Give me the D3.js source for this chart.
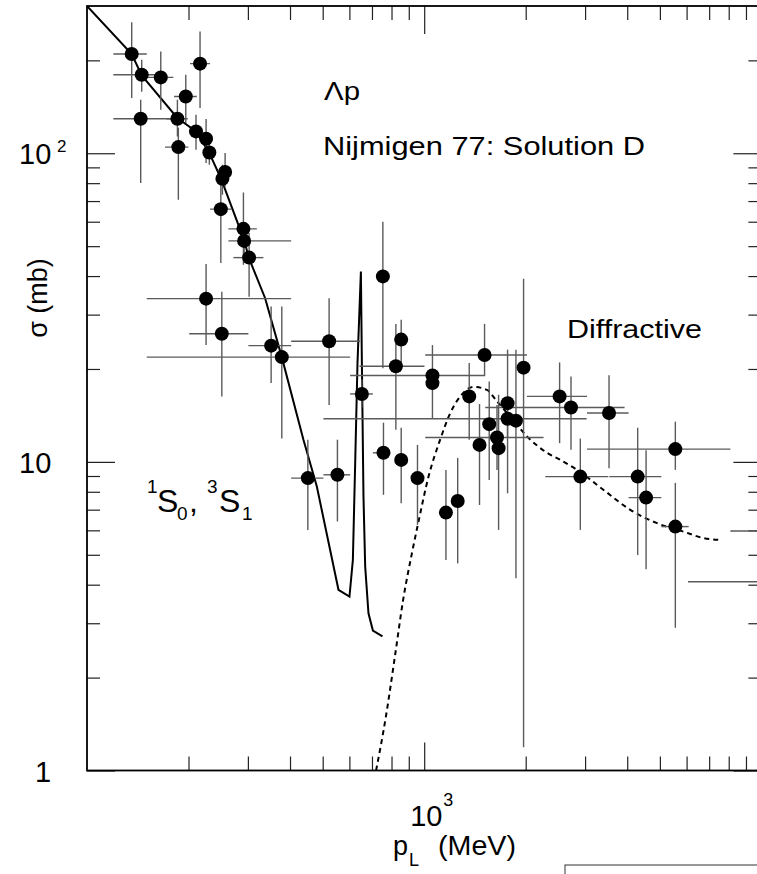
<!DOCTYPE html>
<html>
<head>
<meta charset="utf-8">
<script src="https://cdnjs.cloudflare.com/ajax/libs/d3/7.8.5/d3.min.js"></script>
<style>
    body { margin: 0; background: #fff; }
    svg { display: block; font-family: "Liberation Sans", Arial, Helvetica, sans-serif; }
</style>
</head>
<body>
<svg width="757" height="874"></svg>
<script>
// Lambda-p cross section data (p_L in MeV, sigma in mb)
var pMom   = [135.7, 145.3, 165.5, 216.4, 196.3, 144.3, 185.4, 210.5, 225.5, 186.6, 230.6, 256.8, 252.1, 249.4, 291.0, 292.4, 302.5,
              225.5, 251.1, 351.6, 378.2, 522.4, 653.3, 451.8, 552.9, 754.1, 757.2, 854.6, 824.1, 1058, 1058, 854.6, 955.2,
              1160, 1257, 1360, 1459, 1510, 1559, 1644, 1662, 1767, 1767, 1871, 1971, 2521, 2725, 3533, 2904, 4296, 4550,
              5556, 5556, 11000, 11000];
var pMomLo = [119.7, 119.7, 150.4, 202.1, 181.2, 119.7, 172, 201, 216, 170.4, 222, 248, 244, 231.7, 262.6, 262.6, 271.7,
              150.4, 201, 301, 150.4, 403.1, 603.1, 403.1, 502.5, 754.1, 704.3, 854.6, 642.7, 603.1, 1058, 854.6, 955.2,
              1160, 1257, 1360, 1459, 1007, 1559, 1007, 1662, 1767, 502.5, 1871, 1971, 2017, 1517, 3040, 2286, 3540, 4038,
              3040, 5050, 8091, 6060];
var pMomHi = [150.4, 171, 180.3, 231.7, 211.6, 184.6, 199, 220, 235, 199.8, 240, 266, 260, 268.8, 318.9, 403.1, 333.6,
              403.1, 301, 403.1, 603.1, 645.8, 704.3, 502.5, 603.1, 754.1, 792.9, 854.6, 1002, 1517, 1058, 854.6, 955.2,
              1160, 1257, 1360, 1459, 2017, 1559, 2259, 1662, 1767, 3031, 1871, 1971, 3040, 3929, 4038, 3516, 5050, 5050,
              8091, 6085, 13909, 15940];
var sigma   = [209.7, 179.7, 176.1, 195.1, 152.8, 129.4, 129.4, 117.7, 111.4, 104.7, 100.6, 86.9, 82.7, 65.9, 56.9, 52.0, 45.9,
               33.8, 26.0, 23.8, 21.85, 24.6, 16.6, 8.86, 9.08, 39.9, 10.7, 24.9, 20.4, 19.05, 18.0, 10.15, 8.86,
               6.85, 7.47, 16.3, 11.35, 22.2, 13.25, 12.0, 11.08, 15.5, 13.8, 13.6, 20.2, 16.3, 15.0, 14.4, 8.96, 8.96, 7.66,
               11.0, 6.17, 5.97, 4.09];
var sigmaLo = [151, 158.3, 138.4, 140.1, 125.3, 80.1, 113.4, 102.6, 93, 70.7, 91.8, 78.1, 73.4, 44.1, 43.5, 46.9, 34.3,
               23.9, 16.3, 18.0, 11.9, 15.3, 15.0, 6.02, 6.41, 20.1, 7.82, 20.9, 12.7, 18.0, 13.86, 7.35, 6.25,
               4.81, 4.69, 11.8, 7.25, 19.1, 8.74, 9.42, 6.02, 12.0, 7.91, 4.20, 1.19, 11.5, 10.94, 9.54, 6.02, 4.99, 4.49,
               9.42, 2.90, 5.97, 4.09];
var sigmaHi = [265.5, 201, 213.8, 248.2, 179.7, 149.1, 149.1, 133.3, 129.1, 121, 110.6, 100.1, 91.8, 84.1, 74.6, 58.6, 55.3,
               43.8, 35.6, 31.9, 31.9, 33.9, 18.5, 11.8, 11.8, 60.0, 13.4, 28.9, 27.95, 23.9, 19.05, 12.9, 11.35,
               9.42, 10.3, 20.9, 15.4, 28.0, 18.2, 15.3, 16.5, 23.1, 15.5, 23.1, 39.2, 21.0, 18.9, 19.1, 11.9, 12.9, 10.9,
               13.5, 8.55, 5.97, 4.09];

// Nijmegen 77 solution D (1S0, 3S1) - solid curve
var solidMom = [100, 135.7, 145.3, 185.3, 210.6, 230.1, 249.8, 292.9, 301.8, 337.5, 378.2, 438.4, 480.4, 556.9, 600.3,
                614.4, 624.2, 634.1, 649.0, 653.4, 660.6, 668.3, 683.5, 704.4, 752.1];
var solidSig = [300, 209.7, 178.7, 130.1, 117.7, 100.6, 82.7, 52.0, 45.9, 33.9, 21.85, 11.79, 8.32, 3.85, 3.66,
                4.81, 9.90, 20.89, 41.4, 20.89, 7.72, 4.58, 3.23, 2.84, 2.72];

// diffractive contribution - dashed curve
var dashMom = [720, 771, 820, 866, 920, 962, 1030, 1115, 1195, 1279, 1401, 1535, 1644, 1800, 2017, 2313, 2533, 2839,
               3405, 4086, 4903, 5882, 6743, 7555];
var dashSig = [1.0, 1.51, 2.37, 3.57, 5.07, 6.41, 8.96, 11.8, 14.4, 16.3, 17.5, 17.1, 15.7, 14.0, 12.1, 10.7, 10.15, 9.42,
               8.11, 6.99, 6.33, 5.94, 5.66, 5.59];

// ticks
var xMajor = [1000];
var xMinor = [200, 300, 400, 500, 600, 700, 800, 900, 2000, 3000, 4000, 5000, 6000, 7000, 8000, 9000];
var yMajor = [1, 10, 100];
var yMinor = [2, 3, 4, 5, 6, 7, 8, 9, 20, 30, 40, 50, 60, 70, 80, 90, 200];
var yTickBase = ["1", "10", "10"];
var yTickExp  = ["", "", "2"];
var xTickBase = ["10"];
var xTickExp  = ["3"];

var svg = d3.select("svg");
var plotL = 87, plotR = 761.4, plotT = 6, plotB = 770.5;

var x = d3.scaleLog().domain([100, 10000]).range([plotL, plotR]);
var y = d3.scaleLog().domain([1, 300]).range([plotB, plotT]);

svg.append("defs").append("clipPath").attr("id", "plotclip")
    .append("rect")
    .attr("x", plotL).attr("y", plotT)
    .attr("width", plotR - plotL).attr("height", plotB - plotT);

function drawTicks(axis, tx, ty){
    var g = svg.append("g")
        .attr("transform", "translate(" + tx + "," + ty + ")")
        .call(axis);
    g.select(".domain").remove();
    g.selectAll(".tick line").attr("stroke", "#222").attr("stroke-width", 1.2);
    g.selectAll(".tick text").remove();
}

// inward ticks on all four sides
drawTicks(d3.axisBottom(x).tickValues(xMinor).tickSize(-14), 0, plotB);
drawTicks(d3.axisBottom(x).tickValues(xMajor).tickSize(-28), 0, plotB);
drawTicks(d3.axisTop(x).tickValues(xMinor).tickSize(-14), 0, plotT);
drawTicks(d3.axisTop(x).tickValues(xMajor).tickSize(-28), 0, plotT);
drawTicks(d3.axisLeft(y).tickValues(yMinor).tickSize(-13), plotL, 0);
drawTicks(d3.axisLeft(y).tickValues(yMajor).tickSize(-28), plotL, 0);
drawTicks(d3.axisRight(y).tickValues(yMinor).tickSize(-13), plotR, 0);
drawTicks(d3.axisRight(y).tickValues(yMajor).tickSize(-28), plotR, 0);

svg.append("rect")
    .attr("x", plotL).attr("y", plotT)
    .attr("width", plotR - plotL).attr("height", plotB - plotT)
    .attr("fill", "none").attr("stroke", "#000").attr("stroke-width", 1.8);

var plot = svg.append("g").attr("clip-path", "url(#plotclip)");

// curves
var solidPts = solidMom.map(function(d, i){ return [d, solidSig[i]]; });
var dashPts = dashMom.map(function(d, i){ return [d, dashSig[i]]; });
var line = d3.line()
    .x(function(d){ return x(d[0]); })
    .y(function(d){ return y(d[1]); });

plot.append("path")
    .attr("d", line.curve(d3.curveLinear)(solidPts))
    .attr("fill", "none").attr("stroke", "#000").attr("stroke-width", 2);

plot.append("path")
    .attr("d", line.curve(d3.curveMonotoneX)(dashPts))
    .attr("fill", "none").attr("stroke", "#000").attr("stroke-width", 2)
    .attr("stroke-dasharray", "5,4");

// error bars and points
var pts = pMom.map(function(d, i){
    return {p: d, lo: pMomLo[i], hi: pMomHi[i], s: sigma[i], slo: sigmaLo[i], shi: sigmaHi[i]};
});

plot.selectAll(".xerr").data(pts.filter(function(d){ return d.hi > d.lo; }))
    .enter().append("line")
    .attr("x1", function(d){ return x(d.lo); })
    .attr("x2", function(d){ return x(d.hi); })
    .attr("y1", function(d){ return y(d.s); })
    .attr("y2", function(d){ return y(d.s); })
    .attr("stroke", "#5a5a5a").attr("stroke-width", 1.4);

plot.selectAll(".yerr").data(pts.filter(function(d){ return d.shi > d.slo; }))
    .enter().append("line")
    .attr("x1", function(d){ return x(d.p); })
    .attr("x2", function(d){ return x(d.p); })
    .attr("y1", function(d){ return y(d.slo); })
    .attr("y2", function(d){ return y(d.shi); })
    .attr("stroke", "#5a5a5a").attr("stroke-width", 1.4);

plot.selectAll("circle").data(pts)
    .enter().append("circle")
    .attr("cx", function(d){ return x(d.p); })
    .attr("cy", function(d){ return y(d.s); })
    .attr("r", 7)
    .attr("fill", "#000");

// tick labels
yMajor.forEach(function(v, i){
    var tx = yTickBase[i] == "1" ? 35 : 19;
    svg.append("text")
        .attr("x", tx).attr("y", y(v) + 11)
        .attr("font-size", 29)
        .text(yTickBase[i]);
    if(yTickExp[i] != ""){
        svg.append("text")
            .attr("x", 57).attr("y", y(v) - 1)
            .attr("font-size", 17)
            .text(yTickExp[i]);
    }
});

xMajor.forEach(function(v, i){
    svg.append("text")
        .attr("x", x(v) - 14).attr("y", 826)
        .attr("font-size", 29)
        .text(xTickBase[i]);
    svg.append("text")
        .attr("x", x(v) + 19).attr("y", 806)
        .attr("font-size", 18)
        .text(xTickExp[i]);
});

// axis titles
svg.append("text")
    .attr("transform", "translate(47,298) rotate(-90)")
    .attr("text-anchor", "middle")
    .attr("font-size", 27)
    .text("σ (mb)");

svg.append("text").attr("x", 393).attr("y", 855).attr("font-size", 27).text("p");
svg.append("text").attr("x", 409).attr("y", 866).attr("font-size", 18).text("L");
svg.append("text").attr("x", 438).attr("y", 855).attr("font-size", 27)
    .attr("textLength", 78).attr("lengthAdjust", "spacingAndGlyphs").text("(MeV)");

// annotations
svg.append("text").attr("x", 324).attr("y", 100).attr("font-size", 25)
    .attr("textLength", 36).attr("lengthAdjust", "spacingAndGlyphs").text("Λp");
svg.append("text").attr("x", 323).attr("y", 155).attr("font-size", 25)
    .attr("textLength", 322).attr("lengthAdjust", "spacingAndGlyphs").text("Nijmigen 77: Solution D");
svg.append("text").attr("x", 567).attr("y", 338).attr("font-size", 25)
    .attr("textLength", 135).attr("lengthAdjust", "spacingAndGlyphs").text("Diffractive");

svg.append("text").attr("x", 147).attr("y", 493).attr("font-size", 19).text("1");
svg.append("text").attr("x", 157).attr("y", 512).attr("font-size", 32).text("S");
svg.append("text").attr("x", 177).attr("y", 520).attr("font-size", 19).text("0");
svg.append("text").attr("x", 189).attr("y", 512).attr("font-size", 32).text(",");
svg.append("text").attr("x", 207).attr("y", 493).attr("font-size", 19).text("3");
svg.append("text").attr("x", 219).attr("y", 512).attr("font-size", 32).text("S");
svg.append("text").attr("x", 242).attr("y", 520).attr("font-size", 19).text("1");

// edge of the next panel, cut off at the bottom right
svg.append("rect")
    .attr("x", 565).attr("y", 865).attr("width", 300).attr("height", 40)
    .attr("fill", "none").attr("stroke", "#333").attr("stroke-width", 1);
</script>
</body>
</html>
